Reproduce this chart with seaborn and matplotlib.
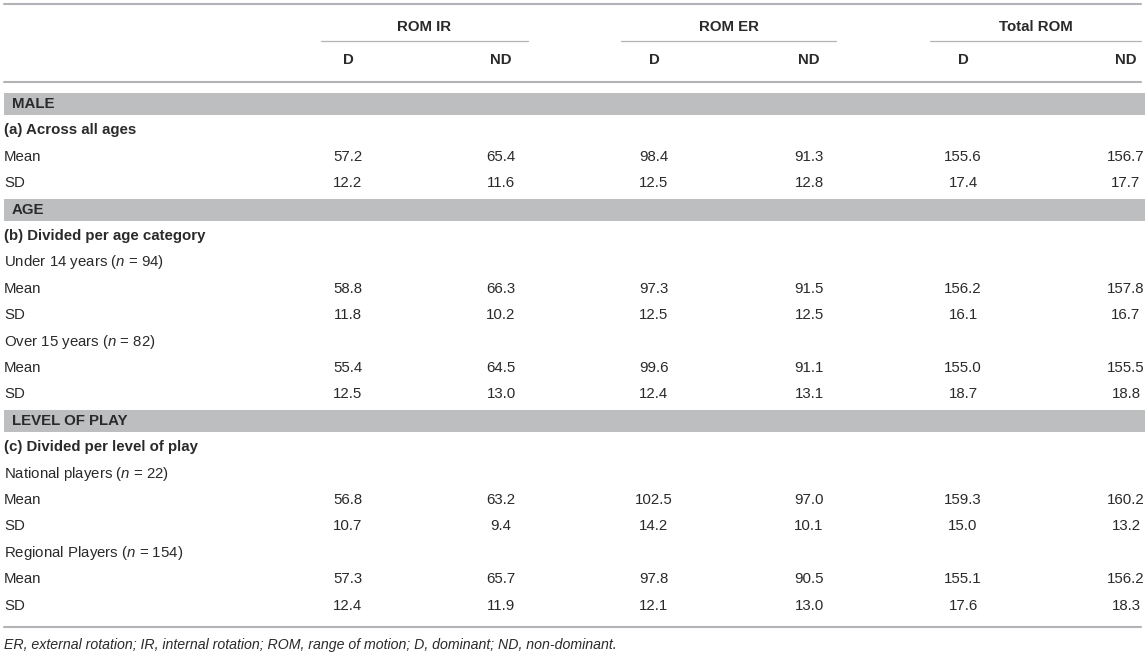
import numpy as np
import pandas as pd
import seaborn as sns
import matplotlib.pyplot as plt

# table content
groups = ["ROM IR", "ROM ER", "Total ROM"]
sides = ["D", "ND", "D", "ND", "D", "ND"]

sections = ["MALE", "AGE", "LEVEL OF PLAY"]
subtitles = ["(a) Across all ages", "(b) Divided per age category", "(c) Divided per level of play"]
subgroups = [r"Under 14 years ($n$ = 94)", r"Over 15 years ($n$ = 82)",
             r"National players ($n$ = 22)", r"Regional Players ($n$ = 154)"]

all_mean = [57.2, 65.4, 98.4, 91.3, 155.6, 156.7]
all_sd = [12.2, 11.6, 12.5, 12.8, 17.4, 17.7]
u14_mean = [58.8, 66.3, 97.3, 91.5, 156.2, 157.8]
u14_sd = [11.8, 10.2, 12.5, 12.5, 16.1, 16.7]
o15_mean = [55.4, 64.5, 99.6, 91.1, 155.0, 155.5]
o15_sd = [12.5, 13.0, 12.4, 13.1, 18.7, 18.8]
nat_mean = [56.8, 63.2, 102.5, 97.0, 159.3, 160.2]
nat_sd = [10.7, 9.4, 14.2, 10.1, 15.0, 13.2]
reg_mean = [57.3, 65.7, 97.8, 90.5, 155.1, 156.2]
reg_sd = [12.4, 11.9, 12.1, 13.0, 17.6, 18.3]

footnote = ("ER, external rotation; IR, internal rotation; ROM, range of motion; "
            "D, dominant; ND, non-dominant.")

# row layout: (kind, label, values)
rows = [
    ("band", sections[0], None),
    ("sub", subtitles[0], None),
    ("val", "Mean", all_mean),
    ("val", "SD", all_sd),
    ("band", sections[1], None),
    ("sub", subtitles[1], None),
    ("txt", subgroups[0], None),
    ("val", "Mean", u14_mean),
    ("val", "SD", u14_sd),
    ("txt", subgroups[1], None),
    ("val", "Mean", o15_mean),
    ("val", "SD", o15_sd),
    ("band", sections[2], None),
    ("sub", subtitles[2], None),
    ("txt", subgroups[2], None),
    ("val", "Mean", nat_mean),
    ("val", "SD", nat_sd),
    ("txt", subgroups[3], None),
    ("val", "Mean", reg_mean),
    ("val", "SD", reg_sd),
]
table = pd.DataFrame(rows, columns=["kind", "label", "values"])

sns.set_theme(style="white")
plt.rcParams["font.family"] = ["Liberation Sans", "DejaVu Sans"]
plt.rcParams["mathtext.fontset"] = "custom"
plt.rcParams["mathtext.rm"] = "Liberation Sans"
plt.rcParams["mathtext.it"] = "Liberation Sans:italic"

txt_col = "#2a2a2a"
line_col = "#b1b3b6"
band_col = "#bcbec0"
fs = 10.8

fig = plt.figure(figsize=(11.45, 6.56), dpi=100)
ax = fig.add_axes([0, 0, 1, 1])
ax.set_xlim(0, 1145)
ax.set_ylim(656, 0)
ax.axis("off")

col_x = [348, 501, 654, 809, 963, 1126]
grp_x = [424, 729, 1036]
grp_span = [(321, 528), (621, 836), (930, 1141)]

# header
ax.plot([4, 1141], [4, 4], color=line_col, lw=1.5)
for g, gx, (a, b) in zip(groups, grp_x, grp_span):
    ax.text(gx, 27, g, ha="center", va="center", fontsize=fs, fontweight="bold", color=txt_col)
    ax.plot([a, b], [41, 41], color=line_col, lw=0.9)
for s, cx in zip(sides, col_x):
    ax.text(cx, 60, s, ha="center", va="center", fontsize=fs, fontweight="bold", color=txt_col)
ax.plot([4, 1141], [82, 82], color=line_col, lw=1.5)

# body
y0, step = 104, 26.4
for i, r in table.iterrows():
    y = y0 + i * step
    if r["kind"] == "band":
        ax.fill_between([4, 1145], y - 11, y + 11, color=band_col, lw=0)
        ax.text(12, y, r["label"], ha="left", va="center", fontsize=fs,
                fontweight="bold", color=txt_col)
    elif r["kind"] == "sub":
        ax.text(4, y, r["label"], ha="left", va="center", fontsize=fs,
                fontweight="bold", color=txt_col)
    else:
        ax.text(4, y, r["label"], ha="left", va="center", fontsize=fs, color=txt_col)
        if r["kind"] == "val":
            for v, cx in zip(r["values"], col_x):
                ax.text(cx, y, f"{v:.1f}", ha="center", va="center", fontsize=fs, color=txt_col)

ax.plot([4, 1141], [627, 627], color=line_col, lw=1.5)
ax.text(4, 645, footnote, ha="left", va="center", fontsize=10.2, style="italic", color=txt_col)

fig.savefig("out.png", dpi=100)
